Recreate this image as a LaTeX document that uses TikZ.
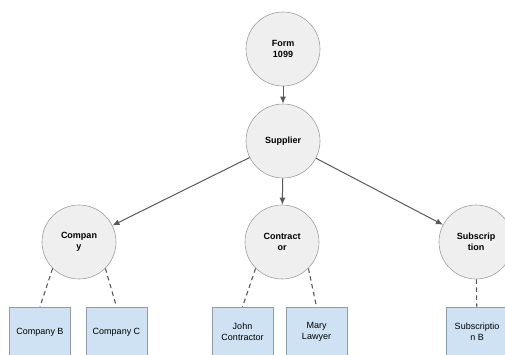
\documentclass[tikz,border=0pt]{standalone}
\usepackage{fontspec}
\setmainfont{Liberation Sans}
\usetikzlibrary{arrows.meta}
\definecolor{circfill}{HTML}{EFEFEF}
\definecolor{circline}{HTML}{9E9E9E}
\definecolor{boxfill}{HTML}{CFE2F3}
\definecolor{boxline}{HTML}{8E9BA8}
\definecolor{arrcol}{HTML}{595959}

\begin{document}
\begin{tikzpicture}[x=1pt,y=-1pt,
	circ/.style={circle,draw=circline,fill=circfill,line width=0.6pt,minimum size=74pt,inner sep=0pt,align=center,font=\fontsize{9}{11}\selectfont\bfseries},
	box/.style={rectangle,draw=boxline,fill=boxfill,line width=0.6pt,minimum width=61pt,minimum height=50pt,inner sep=0pt,align=center,font=\fontsize{9}{11}\selectfont},
	arr/.style={draw=arrcol,line width=1pt,-{Latex[length=7pt,width=6pt]}},
	dashline/.style={draw=arrcol,line width=1.1pt,dash pattern=on 4.5pt off 3.5pt}]
\useasboundingbox (0,0) rectangle (505,354);
\node[circ] (F) at (283,49) {Form\\1099};
\node[circ] (S) at (283,141) {Supplier};
\node[circ] (C) at (79,242) {Compan\\y};
\node[circ] (K) at (282,242) {Contract\\or};
\node[circ] (U) at (476,242) {Subscrip\\tion};
\node[box] (CB) at (40,332) {Company B};
\node[box] (CC) at (116.5,332) {Company C};
\node[box] (KJ) at (242.5,332) {John\\Contractor};
\node[box] (KM) at (316.5,332) {Mary\\Lawyer};
\node[box] (UB) at (477,332) {Subscriptio\\n B};

\draw[arr] (F) -- (S);
\draw[arr] (S) -- (C);
\draw[arr] (S) -- (K);
\draw[arr] (S) -- (U);
\draw[dashline] (C.225) -- (CB.north);
\draw[dashline] (C.315) -- (CC.north);
\draw[dashline] (K.225) -- (KJ.north);
\draw[dashline] (K.315) -- (KM.north);
\draw[dashline] (U) -- (UB);

\end{tikzpicture}
\end{document}
